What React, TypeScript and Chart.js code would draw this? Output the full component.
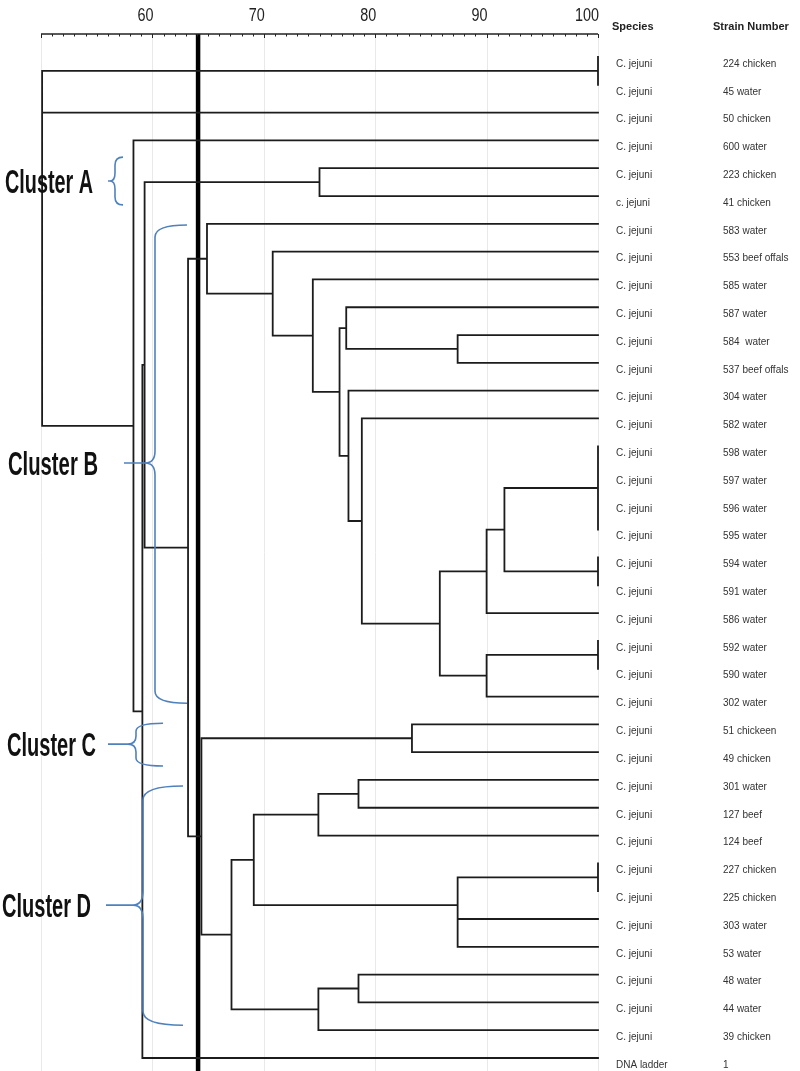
import React, { useEffect, useRef } from "react";
import { Chart, registerables } from "chart.js";

Chart.register(...registerables);

// ---------- data ----------
const speciesLabels = [
  "C. jejuni", "C. jejuni", "C. jejuni", "C. jejuni", "C. jejuni", "c. jejuni",
  "C. jejuni", "C. jejuni", "C. jejuni", "C. jejuni", "C. jejuni", "C. jejuni",
  "C. jejuni", "C. jejuni", "C. jejuni", "C. jejuni", "C. jejuni", "C. jejuni",
  "C. jejuni", "C. jejuni", "C. jejuni", "C. jejuni", "C. jejuni", "C. jejuni",
  "C. jejuni", "C. jejuni", "C. jejuni", "C. jejuni", "C. jejuni", "C. jejuni",
  "C. jejuni", "C. jejuni", "C. jejuni", "C. jejuni", "C. jejuni", "C. jejuni",
  "DNA ladder",
];

const strainLabels = [
  "224 chicken", "45 water", "50 chicken", "600 water", "223 chicken", "41 chicken",
  "583 water", "553 beef offals", "585 water", "587 water", "584  water", "537 beef offals",
  "304 water", "582 water", "598 water", "597 water", "596 water", "595 water",
  "594 water", "591 water", "586 water", "592 water", "590 water", "302 water",
  "51 chickeen", "49 chicken", "301 water", "127 beef", "124 beef", "227 chicken",
  "225 chicken", "303 water", "53 water", "48 water", "44 water", "39 chicken",
  "1",
];

// merges (leaves 0..36, merged nodes numbered 37.. in this order)
const mergeLeft = [0, 4, 10, 9, 14, 16, 41, 18, 43, 45, 21, 47, 46, 13, 12, 40, 8, 7, 6, 24, 26, 57, 29, 31, 59, 58, 33, 63, 62, 56, 55, 38, 68, 3, 37, 71];
const mergeRight = [1, 5, 11, 39, 15, 17, 42, 19, 44, 20, 22, 23, 48, 49, 50, 51, 52, 53, 54, 25, 27, 28, 30, 32, 60, 61, 34, 35, 64, 65, 66, 67, 36, 69, 2, 70];
const mergeSimilarity = [100, 75.0, 87.4, 77.4, 100, 100, 100, 100, 91.6, 90.0, 100, 90.0, 85.8, 78.8, 77.6, 76.8, 74.4, 70.8, 64.9, 83.3, 78.5, 74.9, 100, 87.4, 87.4, 69.1, 78.5, 74.9, 67.1, 64.4, 63.2, 59.3, 59.1, 58.3, 50.1, 50.1];

const axisTickLabels = [60, 70, 80, 90, 100];
const cutoffSimilarity = 64.1;

const clusterNames = ["Cluster A", "Cluster B", "Cluster C", "Cluster D"];
const clusterTop = [3.6, 6.04, 23.96, 26.22];
const clusterMid = [4.46, 14.6, 24.71, 30.5];
const clusterBottom = [5.32, 23.24, 25.5, 34.82];

// ---------- styles (pixels) ----------
const braceStyle = [
  { xs: 115, xe: 123, xt: 108, c: 5, r: 8, textX: 5, textW: 88 },
  { xs: 155, xe: 187, xt: 124, c: 10, r: 12, textX: 8, textW: 90 },
  { xs: 136, xe: 163, xt: 108, c: 8, r: 8, textX: 7, textW: 89 },
  { xs: 143, xe: 183, xt: 106, c: 10, r: 14, textX: 2, textW: 89 },
];

function buildTree() {
  const n = speciesLabels.length;
  const nx: number[] = [];
  const ny: number[] = [];
  for (let i = 0; i < n; i++) {
    nx[i] = 100;
    ny[i] = i;
  }
  const pts: { x: number; y: number | null }[] = [];
  mergeLeft.forEach((l, k) => {
    const r = mergeRight[k];
    const s = mergeSimilarity[k];
    const id = n + k;
    nx[id] = s;
    ny[id] = (ny[l] + ny[r]) / 2;
    pts.push(
      { x: nx[l], y: ny[l] },
      { x: s, y: ny[l] },
      { x: s, y: ny[r] },
      { x: nx[r], y: ny[r] },
      { x: s, y: null }
    );
  });
  return pts;
}

function fitText(ctx: CanvasRenderingContext2D, text: string, x: number, y: number, w: number, align: "left" | "right") {
  const m = ctx.measureText(text).width;
  const sx = w / m;
  ctx.save();
  ctx.translate(x, y);
  ctx.scale(sx, 1);
  ctx.textAlign = align;
  ctx.fillText(text, 0, 0);
  ctx.restore();
}

const decorPlugin = {
  id: "decor",
  beforeDatasetsDraw(chart: any) {
    const ctx = chart.ctx as CanvasRenderingContext2D;
    const xs = chart.scales.x;
    const ys = chart.scales.y;
    const top = chart.chartArea.top;
    const bottom = chart.chartArea.bottom;
    ctx.save();
    ctx.strokeStyle = "#e9e9e9";
    ctx.lineWidth = 1;
    for (let v = 50; v <= 100; v += 10) {
      const px = Math.round(xs.getPixelForValue(v)) + 0.5;
      ctx.beginPath();
      ctx.moveTo(px, top);
      ctx.lineTo(px, bottom);
      ctx.stroke();
    }
    ctx.restore();
    void ys;
  },
  afterDatasetsDraw(chart: any) {
    const ctx = chart.ctx as CanvasRenderingContext2D;
    const xs = chart.scales.x;
    const ys = chart.scales.y;
    const top = chart.chartArea.top;
    ctx.save();
    // axis line
    ctx.strokeStyle = "#222";
    ctx.lineWidth = 1.5;
    ctx.beginPath();
    ctx.moveTo(xs.getPixelForValue(50), top);
    ctx.lineTo(xs.getPixelForValue(100), top);
    ctx.stroke();
    ctx.lineWidth = 1;
    for (let v = 50; v <= 100; v += 1) {
      const px = Math.round(xs.getPixelForValue(v)) + 0.5;
      ctx.beginPath();
      ctx.moveTo(px, top);
      ctx.lineTo(px, top + (v % 10 === 0 ? 4 : 2.5));
      ctx.stroke();
    }
    // axis labels
    ctx.fillStyle = "#222";
    ctx.font = "18px 'Liberation Sans Narrow', 'Liberation Sans', Arial, sans-serif";
    ctx.textBaseline = "alphabetic";
    axisTickLabels.forEach((v) => {
      const txt = String(v);
      fitText(ctx, txt, xs.getPixelForValue(v) + 1, 21, txt.length * 8, "right");
    });
    // headers
    ctx.font = "bold 11px 'Liberation Sans', Arial, sans-serif";
    ctx.textAlign = "left";
    ctx.fillStyle = "#222";
    ctx.fillText("Species", 612, 30);
    ctx.fillText("Strain Number", 713, 30);
    // row labels
    ctx.font = "10px 'Liberation Sans', Arial, sans-serif";
    ctx.fillStyle = "#333";
    ctx.textBaseline = "middle";
    speciesLabels.forEach((s, i) => {
      const py = ys.getPixelForValue(i) + 7;
      ctx.fillText(s, 616, py);
      ctx.fillText(strainLabels[i], 723, py);
    });
    // braces
    ctx.strokeStyle = "#4f81bd";
    ctx.lineWidth = 1.6;
    clusterNames.forEach((name, k) => {
      const b = braceStyle[k];
      const yT = ys.getPixelForValue(clusterTop[k]);
      const yM = ys.getPixelForValue(clusterMid[k]);
      const yB = ys.getPixelForValue(clusterBottom[k]);
      ctx.beginPath();
      ctx.moveTo(b.xe, yT);
      ctx.quadraticCurveTo(b.xs, yT, b.xs, yT + b.r);
      ctx.lineTo(b.xs, yM - b.r);
      ctx.quadraticCurveTo(b.xs, yM, b.xs - b.c, yM);
      ctx.lineTo(b.xt, yM);
      ctx.moveTo(b.xs - b.c, yM);
      ctx.quadraticCurveTo(b.xs, yM, b.xs, yM + b.r);
      ctx.lineTo(b.xs, yB - b.r);
      ctx.quadraticCurveTo(b.xs, yB, b.xe, yB);
      ctx.stroke();
      // label
      ctx.fillStyle = "#111";
      ctx.font = "bold 33px 'Liberation Sans Narrow', 'Liberation Sans', Arial, sans-serif";
      ctx.textBaseline = "alphabetic";
      fitText(ctx, name, b.textX, yM + 12, b.textW, "left");
    });
    ctx.restore();
  },
};

export default function App() {
  const ref = useRef<HTMLCanvasElement | null>(null);
  useEffect(() => {
    if (!ref.current) return;
    const tree = buildTree();
    const chart = new Chart(ref.current, {
      type: "line",
      data: {
        datasets: [
          {
            data: tree as any,
            borderColor: "#1c1c1c",
            borderWidth: 1.8,
            pointRadius: 0,
            spanGaps: false,
            tension: 0,
            clip: false as any,
            borderCapStyle: "square",
            borderJoinStyle: "miter",
          },
          {
            data: [
              { x: cutoffSimilarity, y: -0.827 },
              { x: cutoffSimilarity, y: 36.467 },
            ] as any,
            borderColor: "#000",
            borderWidth: 4.5,
            pointRadius: 0,
            clip: false as any,
          },
        ],
      },
      options: {
        animation: false,
        responsive: false,
        devicePixelRatio: 1,
        parsing: true as any,
        layout: { padding: { left: 41, right: 202, top: 34, bottom: 0 } },
        scales: {
          x: { type: "linear", min: 50, max: 100, display: false },
          y: { type: "linear", min: -0.827, max: 36.467, reverse: true, display: false },
        },
        plugins: { legend: { display: false }, tooltip: { enabled: false } },
      },
      plugins: [decorPlugin],
    });
    return () => chart.destroy();
  }, []);
  return (
    <div style={{ position: "fixed", left: 0, top: 0, width: 800, height: 1071, background: "#fff" }}>
      <canvas ref={ref} width={800} height={1071} style={{ width: 800, height: 1071, display: "block" }} />
    </div>
  );
}
